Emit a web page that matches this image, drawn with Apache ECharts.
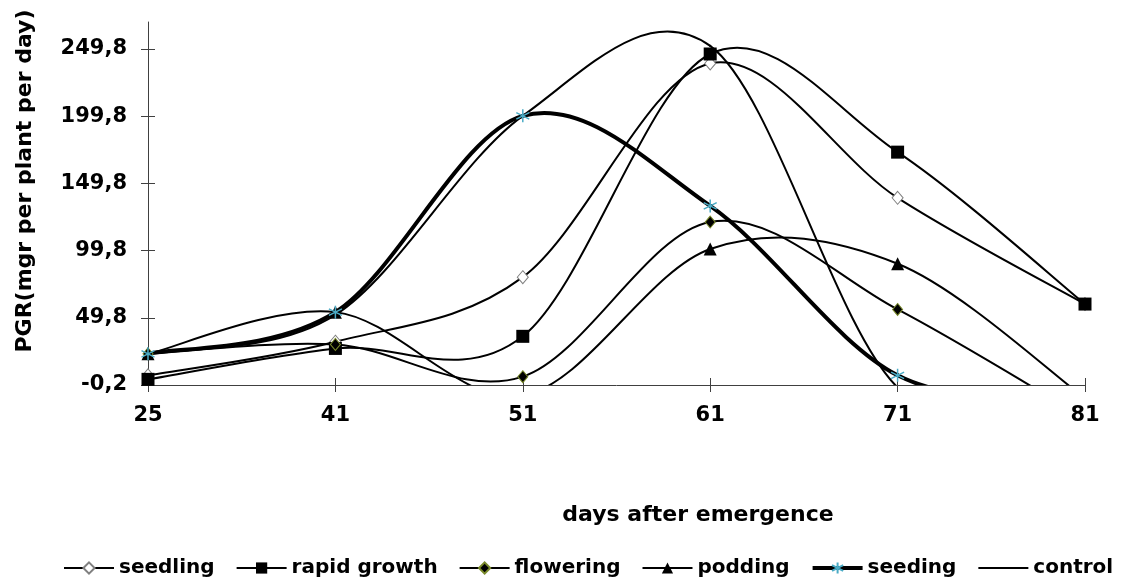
<!DOCTYPE html>
<html>
<head>
<meta charset="utf-8">
<script src="https://cdn.jsdelivr.net/npm/echarts@6/dist/echarts.min.js"></script>
<style>
html,body{margin:0;padding:0;background:#fff;}
#chart{width:1126px;height:578px;}
</style>
</head>
<body>
<div id="chart"></div>
<script>
// ---- data ----
const categories = ['25', '41', '51', '61', '71', '81'];
const seedling    = [7, 32, 80, 239, 139, 60];
const rapidGrowth = [4, 27, 36, 246, 173, 60];
const flowering   = [23, 30, 6, 121, 56, -25];
const podding     = [23, 54, -8, 101, 90, -10];
const seeding     = [23, 54, 200, 133, 7, -10];
const control     = [23, 52, 200, 252, -2, -20];
const yTickValues = [-0.2, 49.8, 99.8, 149.8, 199.8, 249.8];
const yTickLabels = ['-0,2', '49,8', '99,8', '149,8', '199,8', '249,8'];
const seriesNames = ['seedling', 'rapid growth', 'flowering', 'podding', 'seeding', 'control'];
const xTitle = 'days after emergence';
const yTitle = 'PGR(mgr per plant per day)';

const FONT = '"DejaVu Sans", sans-serif';
const asterisk = 'path://M5,0L5,10M0.7,2.5L9.3,7.5M0.7,7.5L9.3,2.5';

// Excel-style smoothed curve: cubic Bezier segments whose control points are
// derived from neighbouring data points (mapped through the axes via api.coord).
function curve(values, width) {
  return {
    type: 'custom', coordinateSystem: 'cartesian2d', clip: true, silent: true, z: 1,
    data: values.map(function (v, i) { return [i, v]; }),
    renderItem: function (params, api) {
      const i = params.dataIndex;
      const n = values.length;
      if (i >= n - 1) return null;
      const P = function (k) { k = Math.max(0, Math.min(n - 1, k)); return api.coord([k, values[k]]); };
      const p0 = P(i - 1), p1 = P(i), p2 = P(i + 1), p3 = P(i + 2);
      const t = 1 / 6;
      return {
        type: 'bezierCurve',
        shape: {
          x1: p1[0], y1: p1[1],
          cpx1: p1[0] + (p2[0] - p0[0]) * t, cpy1: p1[1] + (p2[1] - p0[1]) * t,
          cpx2: p2[0] - (p3[0] - p1[0]) * t, cpy2: p2[1] - (p3[1] - p1[1]) * t,
          x2: p2[0], y2: p2[1]
        },
        style: { stroke: '#000', lineWidth: width, fill: null, lineCap: 'round' }
      };
    }
  };
}

function marks(name, data, sym, size, item) {
  return {
    name: name, type: 'line', data: data, smooth: false,
    symbol: sym, symbolSize: size, showSymbol: sym !== 'none',
    lineStyle: { color: '#000', width: 2, opacity: 0 },
    itemStyle: item, clip: true, z: 3
  };
}

const lineWidths = [2, 2, 2, 2, 4, 2];

const chart = echarts.init(document.getElementById('chart'));
chart.setOption({
  animation: false,
  backgroundColor: '#fff',
  grid: { left: 148, right: 41, top: 22, bottom: 193 },
  xAxis: [{
    type: 'category', data: categories, boundaryGap: false,
    axisLine: { onZero: false, lineStyle: { color: '#404040', width: 1 } },
    axisTick: { alignWithLabel: true, length: 7, lineStyle: { color: '#404040' } },
    axisLabel: { margin: 20, color: '#000', fontFamily: FONT, fontWeight: 'bold', fontSize: 21 },
    splitLine: { show: false }
  }, {
    type: 'category', data: categories, boundaryGap: false, position: 'bottom',
    axisLine: { show: false, onZero: false },
    axisTick: { inside: true, length: 7, lineStyle: { color: '#404040' } },
    axisLabel: { show: false }, splitLine: { show: false }
  }],
  yAxis: [{
    type: 'value', min: -0.2, max: 269.8, position: 'left',
    axisLine: { show: true, lineStyle: { color: '#404040', width: 1 } },
    axisTick: { show: true, length: 7, customValues: yTickValues, lineStyle: { color: '#404040' } },
    axisLabel: {
      margin: 21, color: '#000', fontFamily: FONT, fontWeight: 'bold', fontSize: 21,
      customValues: yTickValues,
      formatter: function (v) {
        let best = 0;
        for (let i = 0; i < yTickValues.length; i++) {
          if (Math.abs(yTickValues[i] - v) < Math.abs(yTickValues[best] - v)) best = i;
        }
        return yTickLabels[best];
      }
    },
    splitLine: { show: false }
  }, {
    type: 'value', min: -0.2, max: 269.8, position: 'left', offset: 0,
    axisLine: { show: false },
    axisTick: { show: true, inside: true, length: 7, customValues: yTickValues, lineStyle: { color: '#404040' } },
    axisLabel: { show: false }, splitLine: { show: false }
  }],
  legend: {
    left: 58, top: 553, itemWidth: 50, itemHeight: 14, itemGap: 21,
    textStyle: { color: '#000', fontFamily: FONT, fontWeight: 'bold', fontSize: 20 },
    data: seriesNames.map(function (nm, i) {
      const d = { name: nm, lineStyle: { color: '#000', width: lineWidths[i], opacity: 1 } };
      if (nm === 'control') d.itemStyle = { opacity: 0 };
      return d;
    })
  },
  graphic: [{
    type: 'text', x: 698, y: 515,
    style: { text: xTitle, font: 'bold 22px ' + FONT, fill: '#000', align: 'center', verticalAlign: 'middle' }
  }, {
    type: 'text', x: 25, y: 181, rotation: Math.PI / 2,
    style: { text: yTitle, font: 'bold 22px ' + FONT, fill: '#000', align: 'center', verticalAlign: 'middle' }
  }],
  series: [
    curve(seedling, lineWidths[0]),
    curve(rapidGrowth, lineWidths[1]),
    curve(flowering, lineWidths[2]),
    curve(podding, lineWidths[3]),
    curve(seeding, lineWidths[4]),
    curve(control, lineWidths[5]),
    marks(seriesNames[0], seedling, 'diamond', [11, 13], { color: '#fff', borderColor: '#808080', borderWidth: 1 }),
    marks(seriesNames[1], rapidGrowth, 'rect', 13, { color: '#000', borderColor: '#000', borderWidth: 0 }),
    marks(seriesNames[2], flowering, 'diamond', [10, 12], { color: '#000', borderColor: '#7a8a2a', borderWidth: 1 }),
    marks(seriesNames[3], podding, 'triangle', 13, { color: '#000', borderColor: '#000', borderWidth: 0 }),
    marks(seriesNames[4], seeding, asterisk, 13, { color: '#4bacc6', borderColor: '#4bacc6', borderWidth: 1.5 }),
    marks(seriesNames[5], control, 'none', 0, { color: '#000' })
  ]
});
</script>
</body>
</html>
